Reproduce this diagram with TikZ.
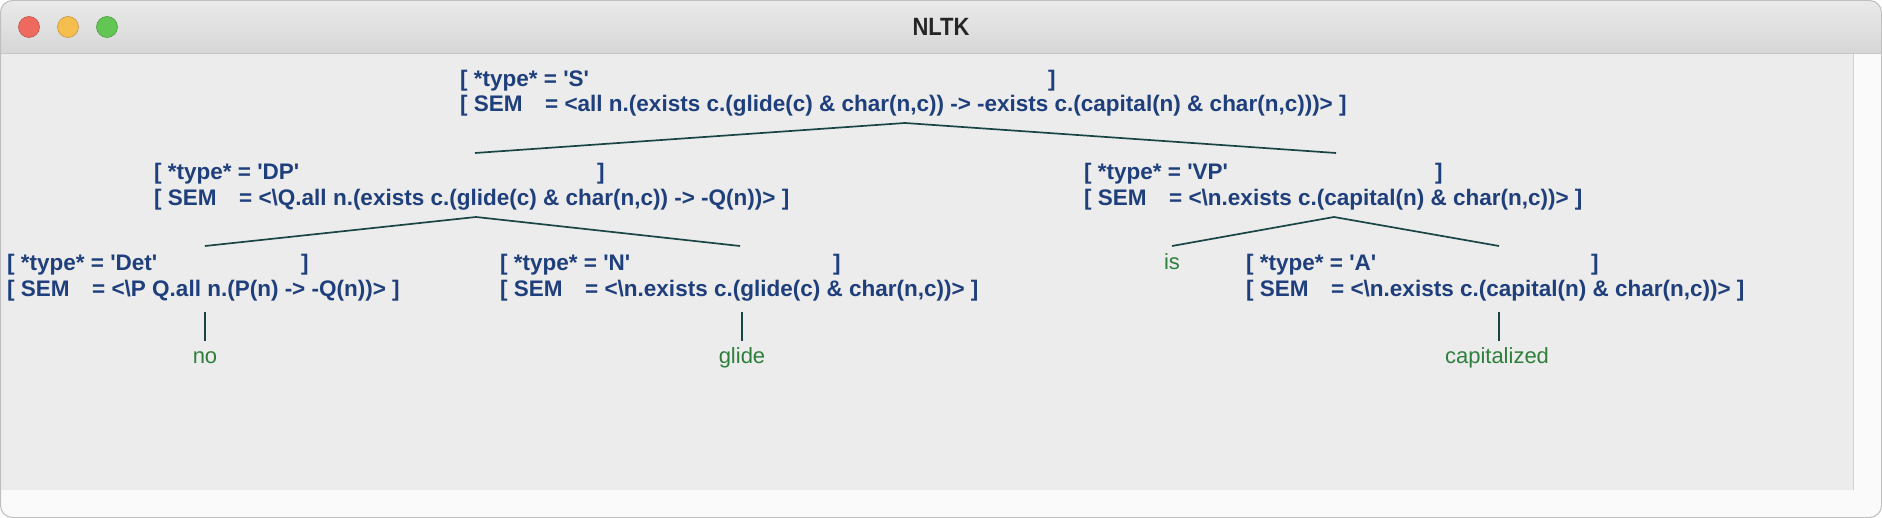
\documentclass[tikz,border=0pt]{standalone}
\usepackage{fontspec}
\setmainfont{Liberation Sans}
\definecolor{nodeblue}{HTML}{1F3F7C}
\definecolor{leafgreen}{HTML}{2F7F3C}
\definecolor{branchc}{HTML}{1B4545}
\definecolor{winbg}{HTML}{ECECEC}
\definecolor{barlight}{HTML}{FAFAFA}
\definecolor{titletop}{HTML}{EAEAEA}
\definecolor{titlebot}{HTML}{D6D6D6}
\definecolor{redlight}{HTML}{EE6A5F}
\definecolor{yellowlight}{HTML}{F5BE4F}
\definecolor{greenlight}{HTML}{62C554}
\newcommand{\q}{\textquotesingle}
\newcommand{\bs}{\textbackslash}
\begin{document}
\begin{tikzpicture}[x=1pt,y=-1pt,
  lab/.style={anchor=base west, inner sep=0pt, text=nodeblue, font=\fontsize{22.5}{26}\selectfont\bfseries},
  leaf/.style={anchor=base, inner sep=0pt, text=leafgreen, font=\fontsize{22}{26}\selectfont},
  branch/.style={draw=branchc, line width=1.7pt},
  light/.style={draw=#1!80!black, line width=0.6pt, fill=#1}]
\useasboundingbox (0,0) rectangle (1882,518);
\fill[white] (0,0) rectangle (1882,518);
% window
\begin{scope}
  \clip[rounded corners=12pt] (0.5,0.5) rectangle (1881.5,517.5);
  \shade[top color=titletop, bottom color=titlebot] (0,0) rectangle (1882,54);
  \fill[winbg] (0,54) rectangle (1853,490);
  \fill[barlight] (1853,54) rectangle (1882,518);
  \fill[barlight] (0,490) rectangle (1882,518);
\end{scope}
\draw[draw=black!22, line width=1pt] (0,54) -- (1882,54);
\draw[draw=black!18, line width=0.8pt] (1853,54) -- (1853,490);
\draw[draw=black!25, line width=1pt, rounded corners=12pt] (0.5,0.5) rectangle (1881.5,517.5);
\node[light=redlight, circle, minimum size=21pt, inner sep=0pt] (btnred) at (29,27) {};
\node[light=yellowlight, circle, minimum size=21pt, inner sep=0pt] (btnyellow) at (68,27) {};
\node[light=greenlight, circle, minimum size=21pt, inner sep=0pt] (btngreen) at (107,27) {};
\node[font=\fontsize{25}{28}\selectfont\bfseries, text=black!85, inner sep=0pt] (title) at (941,27) {\scalebox{0.88}[1]{NLTK}};

% S
\node[lab] (S1) at (460,87) {[ *type* = \q S\q};
\node[lab] (S1r) at (1048,87) {]};
\node[lab] (S2) at (460,112) {[ SEM};
\node[lab] (S2v) at (545,112) {= <all n.(exists c.(glide(c) \& char(n,c)) -> -exists c.(capital(n) \& char(n,c)))> ]};
% DP
\node[lab] (DP1) at (154,180) {[ *type* = \q DP\q};
\node[lab] (DP1r) at (597,180) {]};
\node[lab] (DP2) at (154,206) {[ SEM};
\node[lab] (DP2v) at (239,206) {= <\bs Q.all n.(exists c.(glide(c) \& char(n,c)) -> -Q(n))> ]};
% VP
\node[lab] (VP1) at (1084,180) {[ *type* = \q VP\q};
\node[lab] (VP1r) at (1435,180) {]};
\node[lab] (VP2) at (1084,206) {[ SEM};
\node[lab] (VP2v) at (1169,206) {= <\bs n.exists c.(capital(n) \& char(n,c))> ]};
% Det
\node[lab] (Det1) at (7,271) {[ *type* = \q Det\q};
\node[lab] (Det1r) at (301,271) {]};
\node[lab] (Det2) at (7,297) {[ SEM};
\node[lab] (Det2v) at (92,297) {= <\bs P Q.all n.(P(n) -> -Q(n))> ]};
% N
\node[lab] (N1) at (500,271) {[ *type* = \q N\q};
\node[lab] (N1r) at (833,271) {]};
\node[lab] (N2) at (500,297) {[ SEM};
\node[lab] (N2v) at (585,297) {= <\bs n.exists c.(glide(c) \& char(n,c))> ]};
% A
\node[lab] (A1) at (1246,271) {[ *type* = \q A\q};
\node[lab] (A1r) at (1591,271) {]};
\node[lab] (A2) at (1246,297) {[ SEM};
\node[lab] (A2v) at (1331,297) {= <\bs n.exists c.(capital(n) \& char(n,c))> ]};
% leaves
\node[leaf] (is) at (1172,270) {is};
\node[leaf] (no) at (205,364) {no};
\node[leaf] (glide) at (742,364) {glide};
\node[leaf] (capitalized) at (1497,364) {capitalized};

% branch points
\coordinate (Sb) at (905,123);
\coordinate (DPt) at (475,153);
\coordinate (VPt) at (1336,153);
\coordinate (DPb) at (476,217);
\coordinate (Dett) at (205,246);
\coordinate (Nt) at (740,246);
\coordinate (VPb) at (1334,217);
\coordinate (ist) at (1172,246);
\coordinate (At) at (1499,246);
\coordinate (Detb) at (205,312);
\coordinate (Nb) at (742,312);
\coordinate (Ab) at (1499,312);
\coordinate (not) at (205,341);
\coordinate (glidet) at (742,341);
\coordinate (capt) at (1499,341);

\draw[branch] (DPt) -- (Sb) -- (VPt);
\draw[branch] (Dett) -- (DPb) -- (Nt);
\draw[branch] (ist) -- (VPb) -- (At);
\draw[branch] (Detb) -- (not);
\draw[branch] (Nb) -- (glidet);
\draw[branch] (Ab) -- (capt);
\end{tikzpicture}
\end{document}
